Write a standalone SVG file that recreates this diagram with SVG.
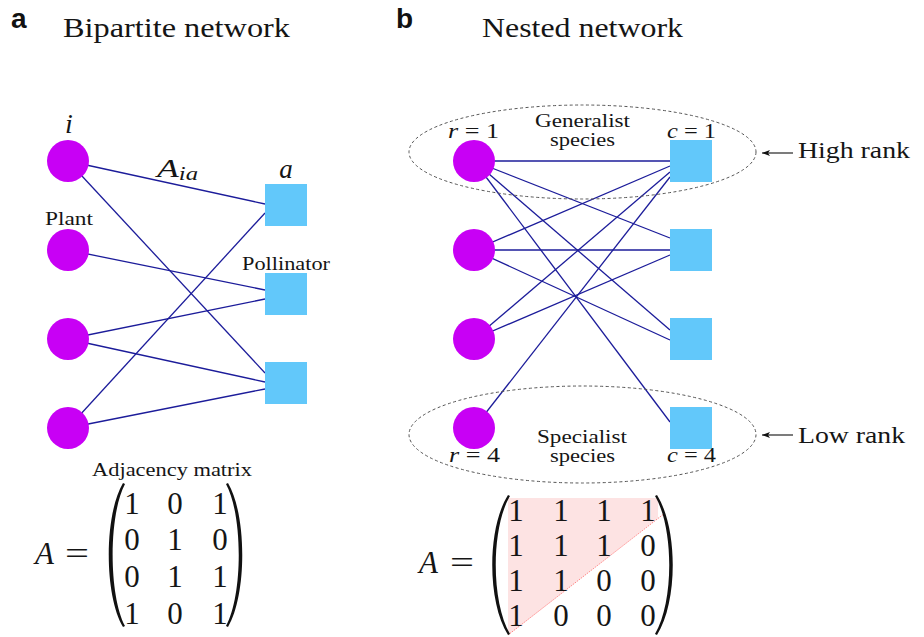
<svg xmlns="http://www.w3.org/2000/svg" width="924" height="637" viewBox="0 0 924 637">
<style>
.t{font-family:"Liberation Serif","Times New Roman",serif;fill:#151515}
.it{font-style:italic}
.lbl{font-family:"Liberation Sans",Arial,sans-serif;font-weight:bold;fill:#111}
.plant{fill:#c800f5}
.poll{fill:#62c8fa}
.edge{stroke:#1c1c9a;stroke-width:1.3;fill:none}
.ell{fill:none;stroke:#555;stroke-width:1;stroke-dasharray:3,2.5}
.arr{stroke:#111;stroke-width:1.1;fill:none}
.par{fill:#111}
</style>
<defs>
<marker id="ah" viewBox="0 0 8 6" refX="8" refY="3" markerWidth="8" markerHeight="6" orient="auto" markerUnits="userSpaceOnUse">
<path d="M8,3 L0,0 L2,3 L0,6 Z" fill="#111"/>
</marker>
</defs>
<rect width="924" height="637" fill="#fff"/>

<!-- titles -->
<text class="lbl" x="11" y="28" font-size="28">a</text>
<text class="t" x="63" y="37" font-size="28" textLength="227" lengthAdjust="spacingAndGlyphs">Bipartite network</text>
<text class="lbl" x="396" y="28" font-size="28">b</text>
<text class="t" x="482" y="37" font-size="28" textLength="201" lengthAdjust="spacingAndGlyphs">Nested network</text>

<!-- connectors -->
<g id="connectors">
<line class="edge" x1="68" y1="161" x2="265" y2="204"/>
<line class="edge" x1="68" y1="161" x2="265" y2="373"/>
<line class="edge" x1="68" y1="250" x2="265" y2="290"/>
<line class="edge" x1="68" y1="339" x2="265" y2="299"/>
<line class="edge" x1="68" y1="339" x2="265" y2="382"/>
<line class="edge" x1="68" y1="428" x2="265" y2="213"/>
<line class="edge" x1="68" y1="428" x2="265" y2="389"/>

<line class="edge" x1="474" y1="161" x2="670" y2="161"/>
<line class="edge" x1="474" y1="161" x2="670" y2="238"/>
<line class="edge" x1="474" y1="161" x2="670" y2="330"/>
<line class="edge" x1="474" y1="161" x2="670" y2="422"/>
<line class="edge" x1="474" y1="250" x2="670" y2="166"/>
<line class="edge" x1="474" y1="250" x2="670" y2="250"/>
<line class="edge" x1="474" y1="250" x2="670" y2="340"/>
<line class="edge" x1="474" y1="339" x2="670" y2="172"/>
<line class="edge" x1="474" y1="339" x2="670" y2="255"/>
<line class="edge" x1="474" y1="428" x2="670" y2="177"/>
</g>

<!-- left panel nodes -->
<g id="plant1"><circle class="plant" cx="68" cy="161" r="21"/><text class="t it" x="69" y="133" font-size="28" text-anchor="middle">i</text></g>
<g id="plant2"><circle class="plant" cx="68" cy="250" r="21"/><text class="t" x="45" y="225" font-size="18" textLength="48" lengthAdjust="spacingAndGlyphs">Plant</text></g>
<g id="plant3"><circle class="plant" cx="68" cy="339" r="21"/></g>
<g id="plant4"><circle class="plant" cx="68" cy="428" r="21"/></g>
<g id="poll1"><rect class="poll" x="265" y="184" width="42" height="42"/><text class="t it" x="286" y="178" font-size="27" text-anchor="middle">a</text></g>
<g id="poll2"><rect class="poll" x="265" y="273" width="42" height="42"/><text class="t" x="242" y="270" font-size="18" textLength="88" lengthAdjust="spacingAndGlyphs">Pollinator</text></g>
<g id="poll3"><rect class="poll" x="265" y="362" width="42" height="42"/></g>
<text class="t it" x="157" y="177" font-size="26" textLength="41" lengthAdjust="spacingAndGlyphs">A<tspan font-size="18" dy="3">ia</tspan></text>

<!-- right panel -->
<g id="generalist">
<ellipse class="ell" cx="582.5" cy="152" rx="173.5" ry="47"/>
<text class="t" x="535" y="127" font-size="18" textLength="95" lengthAdjust="spacingAndGlyphs">Generalist</text>
<text class="t" x="550" y="146" font-size="18" textLength="65" lengthAdjust="spacingAndGlyphs">species</text>
</g>
<g id="specialist">
<ellipse class="ell" cx="582.5" cy="434.5" rx="173.5" ry="48.5"/>
<text class="t" x="537" y="443" font-size="18" textLength="90" lengthAdjust="spacingAndGlyphs">Specialist</text>
<text class="t" x="550" y="462" font-size="18" textLength="65" lengthAdjust="spacingAndGlyphs">species</text>
</g>

<g id="r1"><circle class="plant" cx="474" cy="161" r="21"/><text class="t" x="448" y="138" font-size="21" textLength="51" lengthAdjust="spacingAndGlyphs"><tspan class="it">r</tspan> = 1</text></g>
<g id="r2"><circle class="plant" cx="474" cy="250" r="21"/></g>
<g id="r3"><circle class="plant" cx="474" cy="339" r="21"/></g>
<g id="r4"><circle class="plant" cx="474" cy="428" r="21"/><text class="t" x="449" y="462" font-size="21" textLength="51" lengthAdjust="spacingAndGlyphs"><tspan class="it">r</tspan> = 4</text></g>
<g id="c1"><rect class="poll" x="670" y="140" width="42" height="42"/><text class="t" x="667" y="138" font-size="21" textLength="49" lengthAdjust="spacingAndGlyphs"><tspan class="it">c</tspan> = 1</text></g>
<g id="c2"><rect class="poll" x="670" y="229" width="42" height="42"/></g>
<g id="c3"><rect class="poll" x="670" y="318" width="42" height="42"/></g>
<g id="c4"><rect class="poll" x="670" y="407" width="42" height="42"/><text class="t" x="667" y="462" font-size="21" textLength="49" lengthAdjust="spacingAndGlyphs"><tspan class="it">c</tspan> = 4</text></g>

<g id="highrank">
<line class="arr" x1="793" y1="153" x2="762" y2="153" marker-end="url(#ah)"/>
<text class="t" x="798" y="158" font-size="24" textLength="112" lengthAdjust="spacingAndGlyphs">High rank</text>
</g>
<g id="lowrank">
<line class="arr" x1="793" y1="435" x2="762" y2="435" marker-end="url(#ah)"/>
<text class="t" x="798" y="443" font-size="24" textLength="107" lengthAdjust="spacingAndGlyphs">Low rank</text>
</g>

<!-- left matrix -->
<g id="matrix-left">
<text class="t" x="92" y="476" font-size="19" textLength="160" lengthAdjust="spacingAndGlyphs">Adjacency matrix</text>
<text class="t it" x="35" y="564" font-size="31">A</text>
<text class="t" x="65" y="564" font-size="32" textLength="24" lengthAdjust="spacingAndGlyphs">=</text>
<path class="par" d="M123,483 C104,515 104,595 123,627 L125,626 C108.5,595 108.5,515 125,484 Z"/>
<path class="par" d="M228,483 C247,515 247,595 228,627 L226,626 C243,595 243,515 226,484 Z"/>
<g class="t" font-size="31" text-anchor="middle">
<text x="132" y="514">1</text><text x="175" y="514">0</text><text x="220" y="514">1</text>
<text x="132" y="550">0</text><text x="175" y="550">1</text><text x="220" y="550">0</text>
<text x="132" y="587">0</text><text x="175" y="587">1</text><text x="220" y="587">1</text>
<text x="132" y="624">1</text><text x="175" y="624">0</text><text x="220" y="624">1</text>
</g>
</g>

<!-- right matrix -->
<g id="matrix-right">
<polygon points="508,498 658,498 658,518 508,635" fill="#fde3e3"/>
<line x1="665" y1="513" x2="508" y2="635" stroke="#ff7a7a" stroke-width="0.9" stroke-dasharray="1.5,1"/>
<text class="t it" x="419" y="573" font-size="31">A</text>
<text class="t" x="450" y="573" font-size="32" textLength="24" lengthAdjust="spacingAndGlyphs">=</text>
<path class="par" d="M508,495 C487,528 487,602 508,635 L510,634 C491,602 491,528 510,496 Z"/>
<path class="par" d="M657,495 C678,528 678,602 657,635 L655,634 C674,602 674,528 655,496 Z"/>
<g class="t" font-size="31" text-anchor="middle">
<text x="516" y="521">1</text><text x="561" y="521">1</text><text x="604" y="521">1</text><text x="648" y="521">1</text>
<text x="516" y="556">1</text><text x="561" y="556">1</text><text x="604" y="556">1</text><text x="648" y="556">0</text>
<text x="516" y="591">1</text><text x="561" y="591">1</text><text x="604" y="591">0</text><text x="648" y="591">0</text>
<text x="516" y="626">1</text><text x="561" y="626">0</text><text x="604" y="626">0</text><text x="648" y="626">0</text>
</g>
</g>
</svg>
